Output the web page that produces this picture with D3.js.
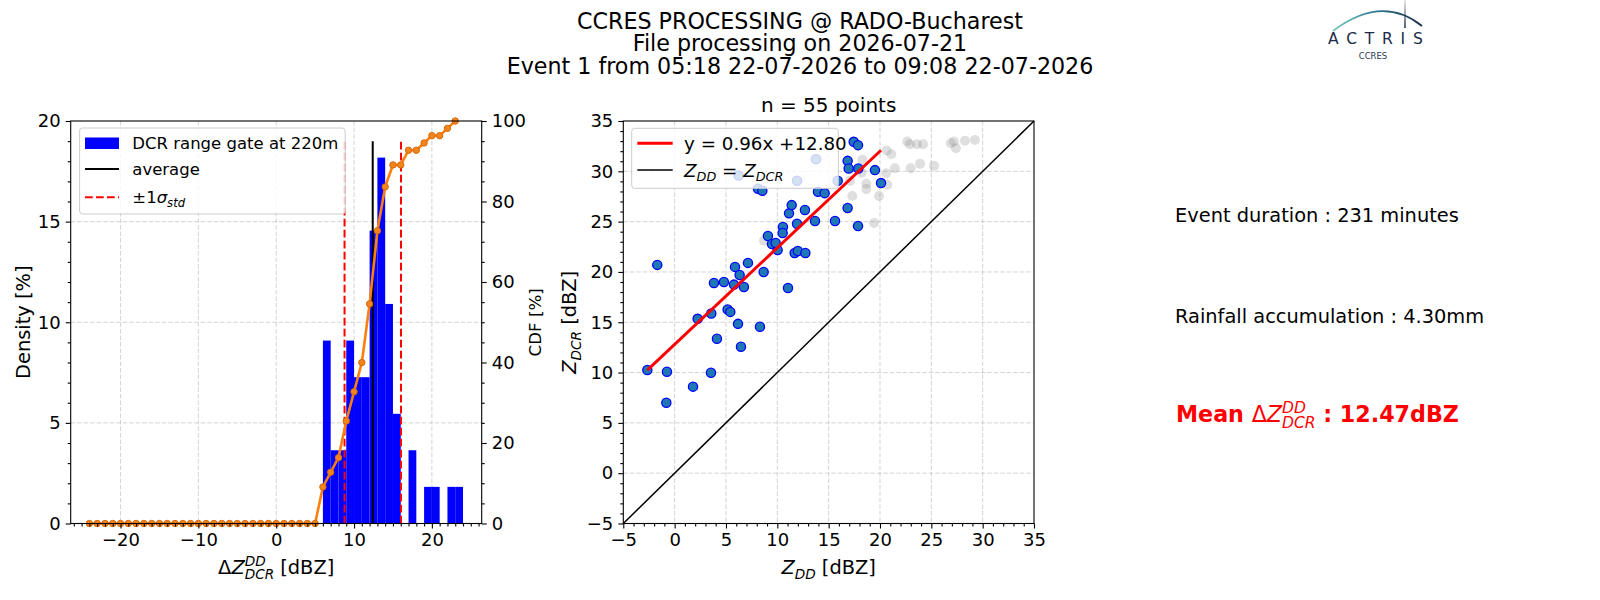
<!DOCTYPE html>
<html>
<head>
<meta charset="utf-8">
<script src="https://cdn.jsdelivr.net/npm/d3@7"></script>
<style>
  body { margin: 0; background: #fff; }
  text { font-family: "DejaVu Sans", sans-serif; }
</style>
</head>
<body>
<div id="chart"></div>
<script>
// Data
const titleLines = [
  'CCRES PROCESSING @ RADO-Bucharest',
  'File processing on 2026-07-21',
  'Event 1 from 05:18 22-07-2026 to 09:08 22-07-2026'
]
const binStart = -24 // histogram bins of 1 dBZ from -24 to 24
const density = [
  0, 0, 0, 0, 0, 0, 0, 0, 0, 0, 0, 0, 0, 0, 0, 0, 0, 0, 0, 0, 0, 0, 0, 0, 0, 0, 0, 0, 0, 0,
  9.09, 3.64, 3.64, 9.09, 7.27, 7.27, 14.55, 18.18, 10.91, 5.45, 0, 3.64, 0, 1.82, 1.82, 0, 1.82, 1.82
]
const cdf = [
  0, 0, 0, 0, 0, 0, 0, 0, 0, 0, 0, 0, 0, 0, 0, 0, 0, 0, 0, 0, 0, 0, 0, 0, 0, 0, 0, 0, 0, 0,
  9.09, 12.73, 16.36, 25.45, 32.73, 40, 54.55, 72.73, 83.64, 89.09, 89.09, 92.73, 92.73, 94.55, 96.36, 96.36, 98.18, 100
]
const meanDelta = 12.4
const stdBounds = [8.78, 16.03]
const meanLineTop = 19

const zdd = [-2.66, -1.69, -0.75, -0.81, 1.79, 2.24, 3.54, 3.57, 3.83, 4.12, 4.8, 5.16, 5.42, 5.88, 5.78,
  6.17, 6.33, 6.75, 6.46, 7.14, 8.31, 8.12, 8.54, 8.67, 9.09, 9.48, 10.03, 10.55, 10.52, 11.04, 11.14, 11.4,
  11.69, 12.0, 12.73, 11.92, 12.69, 13.67, 13.96, 14.61, 15.62, 16.85, 16.95, 16.85, 17.44, 17.86, 17.89,
  17.86, 19.51, 20.1, 6.23, 11.92, 13.77, 15.88, 9.84]
const zdcr = [10.25, 20.7, 10.08, 7.0, 8.6, 15.34, 9.98, 15.87, 18.9, 13.36, 19.0, 16.26, 16.03, 20.5, 18.74,
  14.84, 19.7, 18.5, 12.56, 20.9, 14.55, 28.26, 28.07, 20.0, 23.57, 22.78, 22.18, 24.46, 23.87, 18.41, 25.82, 26.64,
  21.88, 22.08, 21.88, 24.79, 26.15, 25.06, 27.97, 27.83, 25.06, 31.04, 30.28, 26.35, 32.93, 32.6, 30.28,
  24.56, 30.12, 28.83, 29.59, 29.06, 31.21, 29.06, 22.88]
const greyZdd = [17.08, 18.28, 18.2, 18.67, 18.67, 17.3, 19.9, 19.42, 20.71, 20.6, 21.1, 20.65, 21.45, 22.99,
  23.9, 25.26, 22.66, 22.92, 23.6, 24.2, 26.9, 27.2, 27.4, 28.28, 29.25, 8.7]
const greyZdcr = [29.06, 31.14, 29.85, 28.76, 28.23, 27.54, 27.54, 24.86, 28.66, 29.8, 31.7, 32.07, 30.31, 30.31,
  30.74, 30.55, 32.96, 32.69, 32.69, 32.69, 32.79, 32.96, 32.3, 33.03, 33.12, 23.1]
const fitSlope = 0.96
const fitIntercept = 12.80
const nPoints = 55
const eventDuration = 231
const rainfall = '4.30'
const meanText = '12.47'

// Dimensions
const width = 1600, height = 600
const hist = { left: 70.7, right: 481.7, top: 121, bottom: 523.5 }
const scat = { left: 623.3, right: 1034, top: 121, bottom: 523.5 }

const svg = d3.select('#chart').append('svg')
  .attr('width', width).attr('height', height)

const fmt = d => d < 0 ? '\u2212' + Math.abs(d) : String(d)

// mathtext-like label built from pieces, returns group
function mathLabel(parent, pieces) {
  const g = parent.append('g')
  let cx = 0, lastStart = 0
  pieces.forEach(p => {
    const start = p.stack ? lastStart : cx
    const t = g.append('text')
      .attr('x', start).attr('y', p.dy || 0)
      .attr('font-size', p.sz)
      .attr('font-style', p.it ? 'italic' : 'normal')
      .attr('font-weight', p.bold ? 'bold' : 'normal')
      .text(p.t)
    const w = t.node().getComputedTextLength()
    if (p.stack) cx = Math.max(cx, start + w)
    else { lastStart = start; cx = start + w }
  })
  g.node().__w = cx
  return g
}

function addAxis(g, axisFn, scale, major, minor, tr) {
  const minorG = g.append('g').attr('transform', tr)
    .call(axisFn(scale).tickValues(minor.filter(v => !major.includes(v))).tickSize(3).tickFormat(''))
  const majorG = g.append('g').attr('transform', tr)
    .call(axisFn(scale).tickValues(major).tickSize(5).tickPadding(5).tickFormat(fmt))
  for (const a of [minorG, majorG]) {
    a.select('.domain').remove()
    a.selectAll('line').attr('stroke', '#000').attr('stroke-width', 1.1)
  }
  majorG.selectAll('text').attr('font-size', 18).attr('font-family', 'DejaVu Sans').attr('fill', '#000')
}

function grid(g, xs, ys, xVals, yVals, box) {
  const gg = g.append('g').attr('stroke', '#b0b0b0').attr('stroke-opacity', 0.55)
    .attr('stroke-width', 1).attr('stroke-dasharray', '4.5,2')
  gg.selectAll('.gx').data(xVals).join('line')
    .attr('x1', d => xs(d)).attr('x2', d => xs(d)).attr('y1', box.top).attr('y2', box.bottom)
  gg.selectAll('.gy').data(yVals).join('line')
    .attr('y1', d => ys(d)).attr('y2', d => ys(d)).attr('x1', box.left).attr('x2', box.right)
}

function legendBox(g, x, y, w, h) {
  g.append('rect').attr('x', x).attr('y', y).attr('width', w).attr('height', h)
    .attr('rx', 3).attr('fill', '#fff').attr('fill-opacity', 0.8)
    .attr('stroke', '#cccccc').attr('stroke-width', 1)
}

// Title
svg.append('g').selectAll('text').data(titleLines).join('text')
  .attr('x', 800).attr('y', (d, i) => 28.5 + i * 22.9)
  .attr('text-anchor', 'middle').attr('font-size', 22.2).text(d => d)

// ---------------- Histogram + CDF ----------------
const hx = d3.scaleLinear().domain([-26.4, 26.4]).range([hist.left, hist.right])
const hy = d3.scaleLinear().domain([0, 20]).range([hist.bottom, hist.top])
const hyCdf = d3.scaleLinear().domain([0, 100]).range([hist.bottom, hist.top])
const hg = svg.append('g')

grid(hg, hx, hy, [-20, -10, 0, 10, 20], [5, 10, 15], hist)

hg.append('g').selectAll('rect').data(density.map((v, i) => ({ x0: binStart + i, v })).filter(d => d.v > 0))
  .join('rect')
  .attr('x', d => hx(d.x0))
  .attr('width', d => hx(d.x0 + 1) - hx(d.x0))
  .attr('y', d => hy(d.v))
  .attr('height', d => hy(0) - hy(d.v))
  .attr('fill', '#0000ff')

hg.append('line').attr('x1', hx(meanDelta)).attr('x2', hx(meanDelta))
  .attr('y1', hy(0)).attr('y2', hy(meanLineTop)).attr('stroke', '#000').attr('stroke-width', 2)
hg.selectAll('.std').data(stdBounds).join('line')
  .attr('x1', d => hx(d)).attr('x2', d => hx(d))
  .attr('y1', hy(0)).attr('y2', hy(meanLineTop))
  .attr('stroke', '#ff0000').attr('stroke-width', 2).attr('stroke-dasharray', '7.7,3.3')

const cdfData = cdf.map((v, i) => ({ x: binStart + i, v }))
hg.append('path').datum(cdfData)
  .attr('d', d3.line().x(d => hx(d.x)).y(d => hyCdf(d.v)))
  .attr('fill', 'none').attr('stroke', '#ff7f0e').attr('stroke-width', 2.6)
hg.append('g').selectAll('circle').data(cdfData).join('circle')
  .attr('cx', d => hx(d.x)).attr('cy', d => hyCdf(d.v)).attr('r', 3.2)
  .attr('fill', '#f5841c').attr('stroke', '#d46a0c').attr('stroke-width', 1)

hg.append('rect').attr('x', hist.left).attr('y', hist.top)
  .attr('width', hist.right - hist.left).attr('height', hist.bottom - hist.top)
  .attr('fill', 'none').attr('stroke', '#000').attr('stroke-width', 1.1)

addAxis(hg, d3.axisBottom, hx, [-20, -10, 0, 10, 20], d3.range(-26, 27, 1), `translate(0,${hist.bottom})`)
addAxis(hg, d3.axisLeft, hy, [0, 5, 10, 15, 20], d3.range(0, 21, 1), `translate(${hist.left},0)`)
addAxis(hg, d3.axisRight, hyCdf, [0, 20, 40, 60, 80, 100], d3.range(0, 101, 5), `translate(${hist.right},0)`)

// legend
legendBox(hg, 79.6, 128, 265.6, 86)
hg.append('rect').attr('x', 85).attr('y', 137.5).attr('width', 34).attr('height', 11.5).attr('fill', '#0000ff')
hg.append('line').attr('x1', 85).attr('x2', 119).attr('y1', 169).attr('y2', 169)
  .attr('stroke', '#000').attr('stroke-width', 2)
hg.append('line').attr('x1', 85).attr('x2', 119).attr('y1', 197.3).attr('y2', 197.3)
  .attr('stroke', '#ff0000').attr('stroke-width', 2).attr('stroke-dasharray', '7.7,3.3')
hg.append('text').attr('x', 132.3).attr('y', 148.8).attr('font-size', 16.5).text('DCR range gate at 220m')
hg.append('text').attr('x', 132.3).attr('y', 175.2).attr('font-size', 16.5).text('average')
mathLabel(hg, [
  { t: '\u00b11', sz: 16.5 }, { t: '\u03c3', sz: 16.5, it: true }, { t: 'std', sz: 11.6, it: true, dy: 4 }
]).attr('transform', 'translate(132.3,203.2)')

// axis labels
const hxl = mathLabel(hg, [
  { t: '\u0394', sz: 19.4 }, { t: 'Z', sz: 19.4, it: true },
  { t: 'DD', sz: 13.6, it: true, dy: -8 }, { t: 'DCR', sz: 13.6, it: true, dy: 5, stack: true },
  { t: '\u00a0[dBZ]', sz: 19.4 }
])
hxl.attr('transform', `translate(${(hist.left + hist.right) / 2 - hxl.node().__w / 2},574)`)
const hyl = mathLabel(hg, [{ t: 'Density [%]', sz: 19.4 }])
hyl.attr('transform', `translate(29.5,${(hist.top + hist.bottom) / 2}) rotate(-90) translate(${-hyl.node().__w / 2},0)`)
const cyl = mathLabel(hg, [{ t: 'CDF [%]', sz: 16.7 }])
cyl.attr('transform', `translate(541,${(hist.top + hist.bottom) / 2}) rotate(-90) translate(${-cyl.node().__w / 2},0)`)

// ---------------- Scatter ----------------
const sx = d3.scaleLinear().domain([-5, 35]).range([scat.left, scat.right])
const sy = d3.scaleLinear().domain([-5, 35]).range([scat.bottom, scat.top])
const sg = svg.append('g')

grid(sg, sx, sy, [0, 5, 10, 15, 20, 25, 30], [0, 5, 10, 15, 20, 25, 30], scat)

sg.append('line').attr('x1', sx(-5)).attr('y1', sy(-5)).attr('x2', sx(35)).attr('y2', sy(35))
  .attr('stroke', '#000').attr('stroke-width', 1.5)

sg.append('g').selectAll('circle').data(greyZdd.map((x, i) => [x, greyZdcr[i]])).join('circle')
  .attr('cx', d => sx(d[0])).attr('cy', d => sy(d[1])).attr('r', 5)
  .attr('fill', '#808080').attr('fill-opacity', 0.25)

sg.append('g').selectAll('circle').data(zdd.map((x, i) => [x, zdcr[i]])).join('circle')
  .attr('cx', d => sx(d[0])).attr('cy', d => sy(d[1])).attr('r', 4.6)
  .attr('fill', '#1f77b4').attr('stroke', '#0000ff').attr('stroke-width', 1.3)

const fitX = d3.extent(zdd)
sg.append('line')
  .attr('x1', sx(fitX[0])).attr('y1', sy(fitSlope * fitX[0] + fitIntercept))
  .attr('x2', sx(fitX[1])).attr('y2', sy(fitSlope * fitX[1] + fitIntercept))
  .attr('stroke', '#ff0000').attr('stroke-width', 3)

sg.append('rect').attr('x', scat.left).attr('y', scat.top)
  .attr('width', scat.right - scat.left).attr('height', scat.bottom - scat.top)
  .attr('fill', 'none').attr('stroke', '#000').attr('stroke-width', 1.1)

addAxis(sg, d3.axisBottom, sx, d3.range(-5, 36, 5), d3.range(-5, 36, 1), `translate(0,${scat.bottom})`)
addAxis(sg, d3.axisLeft, sy, d3.range(-5, 36, 5), d3.range(-5, 36, 1), `translate(${scat.left},0)`)

legendBox(sg, 631.7, 128.3, 206.6, 60)
sg.append('line').attr('x1', 637.3).attr('x2', 672.7).attr('y1', 143.3).attr('y2', 143.3)
  .attr('stroke', '#ff0000').attr('stroke-width', 3)
sg.append('line').attr('x1', 637.3).attr('x2', 672.7).attr('y1', 170).attr('y2', 170)
  .attr('stroke', '#000').attr('stroke-width', 1.5)
sg.append('text').attr('x', 684).attr('y', 149.8).attr('font-size', 18.3)
  .text(`y = ${fitSlope.toFixed(2)}x +${fitIntercept.toFixed(2)}`)
mathLabel(sg, [
  { t: 'Z', sz: 18.3, it: true }, { t: 'DD', sz: 12.8, it: true, dy: 4 },
  { t: '\u00a0=\u00a0', sz: 18.3 }, { t: 'Z', sz: 18.3, it: true }, { t: 'DCR', sz: 12.8, it: true, dy: 4 }
]).attr('transform', 'translate(684,176.5)')

sg.append('text').attr('x', (scat.left + scat.right) / 2).attr('y', 111.5)
  .attr('text-anchor', 'middle').attr('font-size', 20).text(`n = ${nPoints} points`)

const sxl = mathLabel(sg, [
  { t: 'Z', sz: 19.4, it: true }, { t: 'DD', sz: 13.6, it: true, dy: 5 }, { t: '\u00a0[dBZ]', sz: 19.4 }
])
sxl.attr('transform', `translate(${(scat.left + scat.right) / 2 - sxl.node().__w / 2},574)`)
const syl = mathLabel(sg, [
  { t: 'Z', sz: 19.4, it: true }, { t: 'DCR', sz: 13.6, it: true, dy: 5 }, { t: '\u00a0[dBZ]', sz: 19.4 }
])
syl.attr('transform', `translate(576,${(scat.top + scat.bottom) / 2}) rotate(-90) translate(${-syl.node().__w / 2},0)`)

// ---------------- Info text ----------------
const ig = svg.append('g')
ig.append('text').attr('x', 1175).attr('y', 221.5).attr('font-size', 19.4)
  .text(`Event duration : ${eventDuration} minutes`)
ig.append('text').attr('x', 1175).attr('y', 322.5).attr('font-size', 19.4)
  .text(`Rainfall accumulation : ${rainfall}mm`)
mathLabel(ig, [
  { t: 'Mean\u00a0', sz: 22.2, bold: true }, { t: '\u0394', sz: 22.2 }, { t: 'Z', sz: 22.2, it: true },
  { t: 'DD', sz: 15.5, it: true, dy: -9 }, { t: 'DCR', sz: 15.5, it: true, dy: 6, stack: true },
  { t: '\u00a0:\u00a0' + meanText + 'dBZ', sz: 22.2, bold: true }
]).attr('transform', 'translate(1176,422)').attr('fill', '#ff0000')

// ---------------- Logo ----------------
const defs = svg.append('defs')
const grad = defs.append('linearGradient').attr('id', 'arcGrad')
  .attr('gradientUnits', 'userSpaceOnUse').attr('x1', 1333).attr('x2', 1422).attr('y1', 0).attr('y2', 0)
grad.append('stop').attr('offset', '0').attr('stop-color', '#6cc3b8').attr('stop-opacity', 0.9)
grad.append('stop').attr('offset', '0.45').attr('stop-color', '#2f7f95')
grad.append('stop').attr('offset', '1').attr('stop-color', '#1b2a48')
const vgrad = defs.append('linearGradient').attr('id', 'vGrad')
  .attr('gradientUnits', 'userSpaceOnUse').attr('x1', 0).attr('x2', 0).attr('y1', 0).attr('y2', 28)
vgrad.append('stop').attr('offset', '0').attr('stop-color', '#1b2a48').attr('stop-opacity', 0.15)
vgrad.append('stop').attr('offset', '1').attr('stop-color', '#1b2a48')
const lg = svg.append('g')
lg.append('path').attr('d', 'M1333,31 Q1382,-6 1422,26')
  .attr('fill', 'none').attr('stroke', 'url(#arcGrad)').attr('stroke-width', 1.8)
lg.append('line').attr('x1', 1405).attr('x2', 1405).attr('y1', 0).attr('y2', 28)
  .attr('stroke', 'url(#vGrad)').attr('stroke-width', 1.5)
lg.append('text').attr('x', 1328).attr('y', 44).attr('font-size', 15.5)
  .attr('letter-spacing', 7.8).attr('fill', '#1b2a48').text('ACTRIS')
lg.append('text').attr('x', 1373).attr('y', 59).attr('font-size', 8.5)
  .attr('text-anchor', 'middle').attr('fill', '#2a3550').text('CCRES')
</script>
</body>
</html>
